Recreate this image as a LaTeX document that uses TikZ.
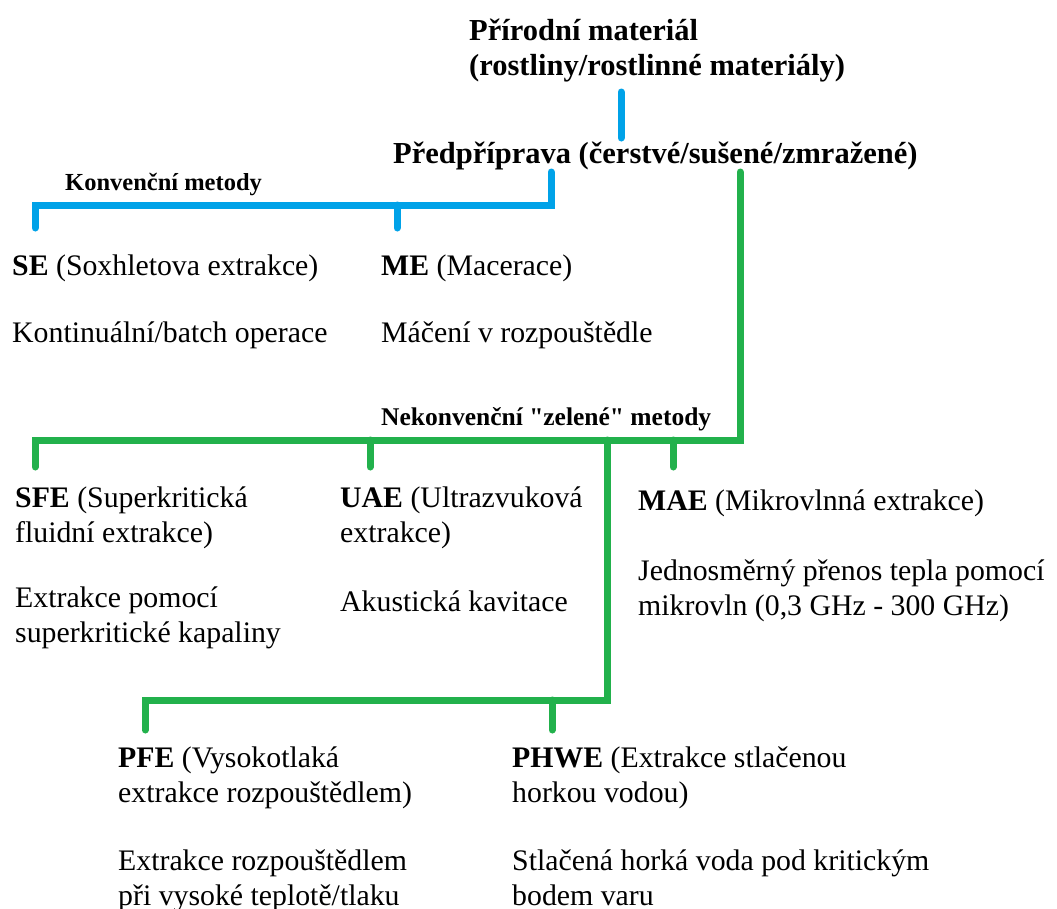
\documentclass[tikz,border=0pt]{standalone}
\usepackage{fontspec}
\setmainfont{Liberation Serif}[Ligatures=TeXOff]
\definecolor{pblue}{RGB}{0,162,232}
\definecolor{pgreen}{RGB}{34,177,76}
\newcommand{\mlines}[1]{\begin{tabular}[t]{@{}l@{}}#1\end{tabular}}
\tikzset{
  txt/.style={anchor=base west, inner sep=0pt, font=\fontsize{29.8}{35}\selectfont},
  head/.style={anchor=base west, inner sep=0pt, font=\fontsize{30.5}{35}\selectfont\bfseries},
  grp/.style={anchor=base west, inner sep=0pt, font=\fontsize{24.5}{30}\selectfont\bfseries},
  bline/.style={draw=pblue, line width=7pt, line cap=round, line join=miter},
  gline/.style={draw=pgreen, line width=7pt, line cap=round, line join=miter},
}
\begin{document}
\begin{tikzpicture}[x=1pt,y=-1pt]
\useasboundingbox[fill=white] (0,0) rectangle (1057,908);
% texts
\node[head] (root) at (469,40) {\mlines{Přírodní materiál\\(rostliny/rostlinné materiály)}};
\node[head] (prep) at (393,163) {Předpříprava (čerstvé/sušené/zmražené)};
\node[grp] (conv) at (65,190) {Konvenční metody};
\node[txt] (se) at (12,275) {\mlines{\textbf{SE} (Soxhletova extrakce)\\[32pt]Kontinuální/batch operace}};
\node[txt] (me) at (381,275) {\mlines{\textbf{ME} (Macerace)\\[32pt]Máčení v rozpouštědle}};
\node[grp, font=\fontsize{25.5}{30}\selectfont\bfseries] (green) at (381,425) {Nekonvenční "zelené" metody};
\node[txt] (sfe) at (15,507) {\mlines{\textbf{SFE} (Superkritická\\fluidní extrakce)\\[30pt]Extrakce pomocí\\superkritické kapaliny}};
\node[txt] (uae) at (340,507) {\mlines{\textbf{UAE} (Ultrazvuková\\extrakce)\\[34pt]Akustická kavitace}};
\node[txt] (mae) at (638,510) {\mlines{\textbf{MAE} (Mikrovlnná extrakce)\\[35pt]Jednosměrný přenos tepla pomocí\\mikrovln (0,3 GHz - 300 GHz)}};
\node[txt] (pfe) at (118,767) {\mlines{\textbf{PFE} (Vysokotlaká\\extrakce rozpouštědlem)\\[33pt]Extrakce rozpouštědlem\\při vysoké teplotě/tlaku}};
\node[txt] (phwe) at (512,767) {\mlines{\textbf{PHWE} (Extrakce stlačenou\\horkou vodou)\\[33pt]Stlačená horká voda pod kritickým\\bodem varu}};
% junction coordinates
\coordinate (r1) at (621,92);
\coordinate (r2) at (621,138);
\coordinate (b0) at (551,172);
\coordinate (b1) at (551,205);
\coordinate (b2) at (35,205);
\coordinate (bse) at (35,228);
\coordinate (bm) at (397,205);
\coordinate (bme) at (397,228);
\coordinate (g0) at (740,172);
\coordinate (g1) at (740,440);
\coordinate (g2) at (35,440);
\coordinate (gsfe) at (35,467);
\coordinate (gu) at (370,440);
\coordinate (guae) at (370,467);
\coordinate (gm) at (673,440);
\coordinate (gmae) at (673,467);
\coordinate (gp) at (607,440);
\coordinate (gp1) at (607,700);
\coordinate (gp2) at (145,700);
\coordinate (gpfe) at (145,730);
\coordinate (gh) at (552,700);
\coordinate (gphwe) at (552,730);
% connectors
\draw[bline] (r1) -- (r2);
\draw[bline] (b0) -- (b1) -- (b2) -- (bse);
\draw[bline] (bm) -- (bme);
\draw[gline] (g0) -- (g1) -- (g2) -- (gsfe);
\draw[gline] (gu) -- (guae);
\draw[gline] (gm) -- (gmae);
\draw[gline] (gp) -- (gp1) -- (gp2) -- (gpfe);
\draw[gline] (gh) -- (gphwe);
\end{tikzpicture}
\end{document}
